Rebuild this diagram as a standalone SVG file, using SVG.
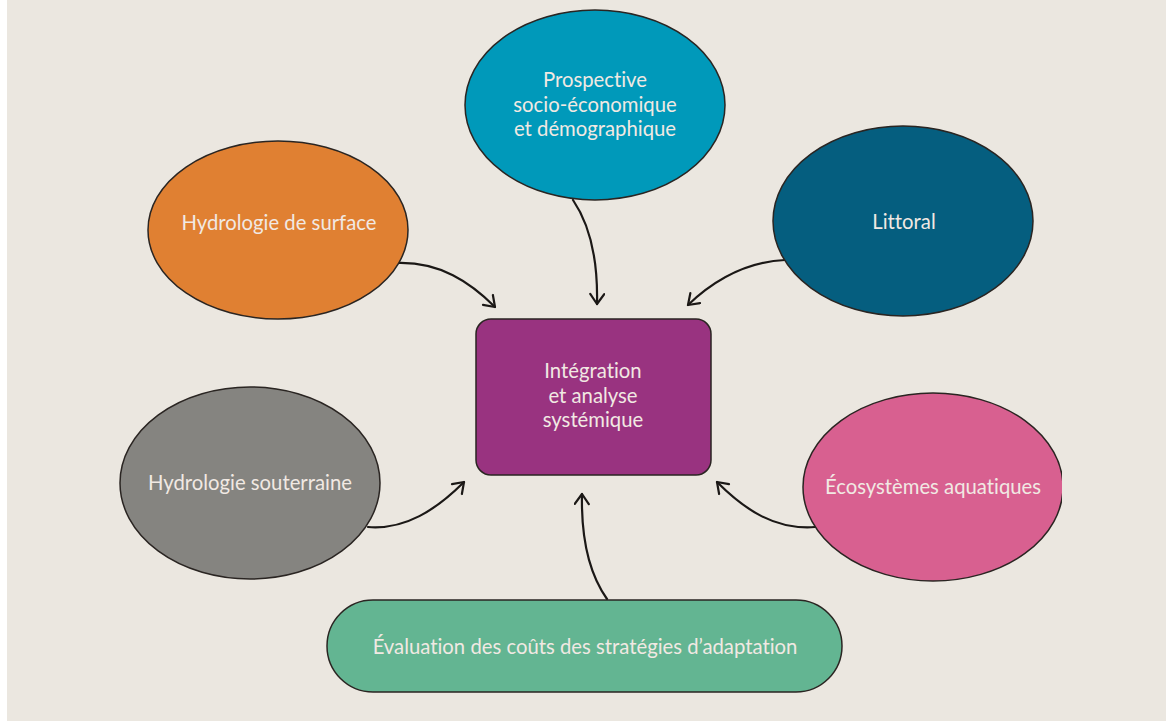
<svg xmlns="http://www.w3.org/2000/svg" width="1166" height="721" viewBox="0 0 1166 721">
<defs>
<style>
.node{stroke:#2a2522;stroke-width:1.5}
.lbl{font-family:Lato,"Noto Sans","Liberation Sans",sans-serif;font-size:20.3px;fill:#F1E9E3;text-anchor:middle;font-variant-ligatures:none;font-feature-settings:"liga" 0,"dlig" 0}
.conn{fill:none;stroke:#1b1816;stroke-width:2.2;stroke-linecap:round}
</style>
<marker id="arr" viewBox="-12 -8 14 16" markerWidth="14" markerHeight="16" refX="0" refY="0" orient="auto" markerUnits="userSpaceOnUse">
<path d="M-10,-7 L0,0 L-10,7" fill="none" stroke="#1b1816" stroke-width="2.2" stroke-linecap="round" stroke-linejoin="round"/>
</marker>
<clipPath id="clipR"><rect x="0" y="0" width="1062" height="721"/></clipPath>
</defs>
<rect x="0" y="0" width="1166" height="721" fill="#ffffff"/>
<rect x="7" y="0" width="1159" height="721" fill="#EBE7E0"/>

<g id="connectors">
<path class="conn" marker-end="url(#arr)" d="M398,263 C440,262 470,282 495,307"/>
<path class="conn" marker-end="url(#arr)" d="M573,200 C590,225 598,260 597,304"/>
<path class="conn" marker-end="url(#arr)" d="M785,260 C745,262 712,282 688,305"/>
<path class="conn" marker-end="url(#arr)" d="M368,527 C405,530 436,510 464,482"/>
<path class="conn" marker-end="url(#arr)" d="M815,527 C775,530 745,510 717,482"/>
<path class="conn" marker-end="url(#arr)" d="M607,599 C590,575 581,540 582,494"/>
</g>

<g id="prospective">
<ellipse class="node" cx="595" cy="105" rx="130" ry="95" fill="#0099BA"/>
<text class="lbl" x="595" y="87">Prospective</text>
<text class="lbl" x="595" y="112">socio-économique</text>
<text class="lbl" x="595" y="136">et démographique</text>
</g>

<g id="hydro-surface">
<ellipse class="node" cx="278" cy="230" rx="130" ry="89" fill="#E08032"/>
<text class="lbl" x="279" y="230">Hydrologie de surface</text>
</g>

<g id="littoral">
<ellipse class="node" cx="903" cy="221" rx="130" ry="95" fill="#055E7F"/>
<text class="lbl" x="904" y="229">Littoral</text>
</g>

<g id="integration">
<rect class="node" x="476" y="319" width="235" height="156" rx="15" fill="#993380"/>
<text class="lbl" x="593" y="378">Intégration</text>
<text class="lbl" x="593" y="403">et analyse</text>
<text class="lbl" x="593" y="427">systémique</text>
</g>

<g id="hydro-souterraine">
<ellipse class="node" cx="250" cy="483" rx="130" ry="96" fill="#858480"/>
<text class="lbl" x="250" y="490">Hydrologie souterraine</text>
</g>

<g id="ecosystemes" clip-path="url(#clipR)">
<ellipse class="node" cx="933" cy="487" rx="130" ry="94" fill="#D86090"/>
<text class="lbl" x="933" y="494">Écosystèmes aquatiques</text>
</g>

<g id="evaluation">
<rect class="node" x="327" y="600" width="515" height="92" rx="46" fill="#63B592"/>
<text class="lbl" x="585" y="654">Évaluation des coûts des stratégies d’adaptation</text>
</g>
</svg>
